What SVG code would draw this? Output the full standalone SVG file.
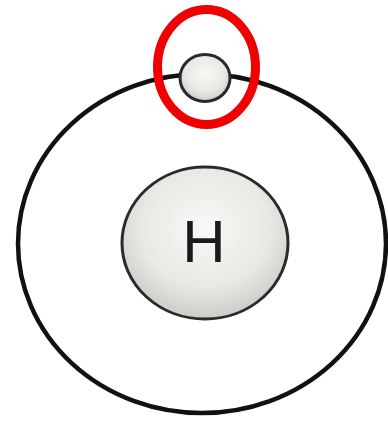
<svg xmlns="http://www.w3.org/2000/svg" width="388" height="421" viewBox="0 0 388 421">
<defs>
<radialGradient id="ball" cx="0.5" cy="0.4" r="0.6">
<stop offset="0" stop-color="#f8f8f6"/>
<stop offset="0.65" stop-color="#e8e8e5"/>
<stop offset="1" stop-color="#cbcbc7"/>
</radialGradient>
</defs>
<style>
.orbit{fill:none;stroke:#111;stroke-width:4.5}
.ball{fill:url(#ball);stroke:#2a2a2a;stroke-width:3}
.mark{fill:none;stroke:#f00000;stroke-width:9}
.lbl{font-family:"Liberation Sans",Arial,sans-serif;font-size:60px;fill:#1a1a1a;text-anchor:middle}
</style>
<rect width="388" height="421" fill="#fff"/>
<g id="orbit"><ellipse class="orbit" cx="202" cy="243.5" rx="184" ry="169.5"/></g>
<g id="nucleus"><ellipse class="ball" cx="205" cy="243" rx="83" ry="76"/><text class="lbl" x="204" y="262">H</text></g>
<g id="electron"><ellipse class="ball" cx="205" cy="78" rx="25" ry="23.5" stroke-width="2.5"/></g>
<g id="highlight"><ellipse class="mark" cx="206.5" cy="67" rx="49" ry="57.5"/></g>
</svg>
